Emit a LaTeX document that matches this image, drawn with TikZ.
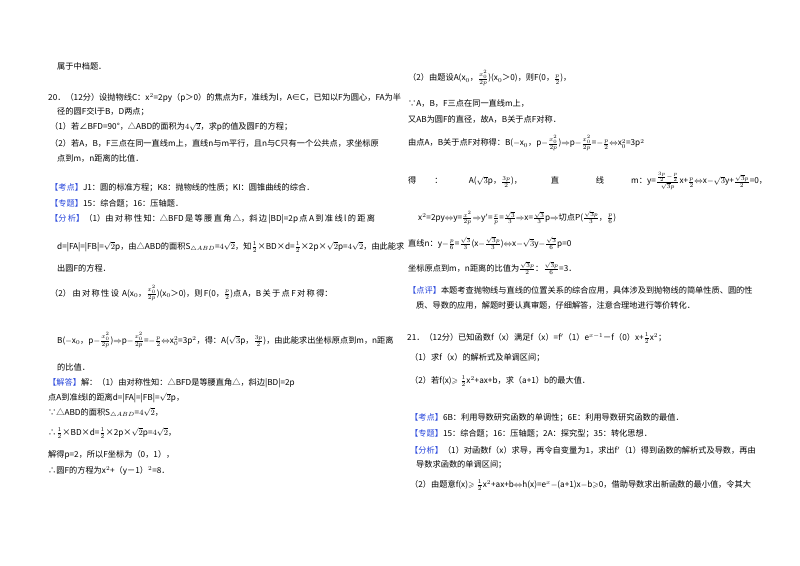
\documentclass[tikz,border=0pt]{standalone}
\usepackage{fontspec}
\setmainfont{Noto Sans CJK SC}
\usepackage{amsmath,amssymb}
\definecolor{tag}{RGB}{40,70,220}
\begin{document}
\begin{tikzpicture}[x=1pt,y=-1pt,
  ln/.style={anchor=west,inner sep=0pt,font=\fontsize{8.2}{10}\selectfont},
  bl/.style={text=tag}]
\useasboundingbox (0,0) rectangle (800,565);
\fill[white] (0,0) rectangle (800,565);
% left column
\node[ln] (l1) at (57,66) {属于中档题．};
\node[ln] (l2) at (48,98) {20．（12分）设抛物线C：x$^2$=2py（p＞0）的焦点为F，准线为l，A∈C，已知以F为圆心，FA为半};
\node[ln] (l3) at (57,112) {径的圆F交l于B，D两点；};
\node[ln] (l4) at (50,127) {（1）若∠BFD=90°，△ABD的面积为$4\sqrt{2}$，求p的值及圆F的方程；};
\node[ln] (l5) at (50,143) {（2）若A，B，F三点在同一直线m上，直线n与m平行，且n与C只有一个公共点，求坐标原};
\node[ln] (l6) at (57,158) {点到m，n距离的比值．};
\node[ln] (l7) at (50,188) {{\color{tag}【考点】}J1：圆的标准方程；K8：抛物线的性质；KI：圆锥曲线的综合．};
\node[ln] (l8) at (50,204) {{\color{tag}【专题】}15：综合题；16：压轴题．};
\node[ln] (l9) at (50,219) {{\color{tag}【分\,析】}（1）由\,对\,称\,性\,知：△BFD\,是\,等\,腰\,直\,角\,△，斜\,边\,|BD|=2p\,点\,A\,到\,准\,线\,l\,的\,距\,离};
\node[ln] (l10) at (57,247) {d=|FA|=|FB|=$\sqrt{2}$p，由△ABD的面积S$_{\triangle ABD}$=$4\sqrt{2}$，知$\frac12$×BD×d=$\frac12$×2p×$\sqrt2$p=$4\sqrt2$，由此能求};
\node[ln] (l11) at (57,268) {出圆F的方程．};
\node[ln] (l12) at (50,293) {（2）\,由\,对\,称\,性\,设\, A(x$_0$，$\frac{x_0^2}{2p}$)(x$_0$＞0)，则\,F(0，$\frac{p}{2}$)点\,A，B\,关\,于\,点\,F\,对\,称\,得：};
\node[ln] (l13) at (57,340) {B($-$x$_0$，p$-\frac{x_0^2}{2p}$)$\Rightarrow$p$-\frac{x_0^2}{2p}$=$-\frac p2$$\Leftrightarrow$x$_0^2$=3p$^2$，得：A($\sqrt3$p，$\frac{3p}{2}$)，由此能求出坐标原点到m，n距离};
\node[ln] (l14) at (57,367) {的比值．};
\node[ln] (l15) at (48,383) {{\color{tag}【解答】}解：（1）由对称性知：△BFD是等腰直角△，斜边|BD|=2p};
\node[ln] (l16) at (48,398) {点A到准线l的距离d=|FA|=|FB|=$\sqrt2$p，};
\node[ln] (l17) at (48,413) {∵△ABD的面积S$_{\triangle ABD}$=$4\sqrt2$，};
\node[ln] (l18) at (48,433) {∴$\frac12$×BD×d=$\frac12$×2p×$\sqrt2$p=$4\sqrt2$，};
\node[ln] (l19) at (48,455) {解得p=2，所以F坐标为（0，1），};
\node[ln] (l20) at (48,471) {∴圆F的方程为x$^2$+（y－1）$^2$=8．};
% right column
\node[ln] (r1) at (408,78) {（2）由题设A(x$_0$，$\frac{x_0^2}{2p}$)(x$_0$＞0)，则F(0，$\frac p2$)，};
\node[ln] (r2) at (408,103) {∵A，B，F三点在同一直线m上，};
\node[ln] (r3) at (408,119) {又AB为圆F的直径，故A，B关于点F对称．};
\node[ln] (r4) at (408,143) {由点A，B关于点F对称得：B($-$x$_0$，p$-\frac{x_0^2}{2p}$)$\Rightarrow$p$-\frac{x_0^2}{2p}$=$-\frac p2$$\Leftrightarrow$x$_0^2$=3p$^2$};
\node[ln] (r5) at (408,181) {得\hspace{2.2em}：\hspace{3.2em}A($\sqrt3$p，$\frac{3p}{2}$)，\hspace{3.5em}直\hspace{4.5em}线\hspace{3.3em}m：y=$\frac{\frac{3p}{2}-\frac p2}{\sqrt3 p}$x+$\frac p2$$\Leftrightarrow$x$-\sqrt3$y+$\frac{\sqrt3 p}{2}$=0，};
\node[ln] (r6) at (418,218) {x$^2$=2py$\Leftrightarrow$y=$\frac{x^2}{2p}$$\Rightarrow$y$'$=$\frac xp$=$\frac{\sqrt3}{3}$$\Rightarrow$x=$\frac{\sqrt3}{3}$p$\Rightarrow$切点P($\frac{\sqrt3 p}{3}$，$\frac p6$)};
\node[ln] (r7) at (408,243) {直线n：y$-\frac p6$=$\frac{\sqrt3}{3}$(x$-\frac{\sqrt3 p}{3}$)$\Leftrightarrow$x$-\sqrt3$y$-\frac{\sqrt3}{6}$p=0};
\node[ln] (r8) at (408,268) {坐标原点到m，n距离的比值为$\frac{\sqrt3 p}{2}$：$\frac{\sqrt3 p}{6}$=3．};
\node[ln] (r9) at (408,290) {{\color{tag}【点评】}本题考查抛物线与直线的位置关系的综合应用，具体涉及到抛物线的简单性质、圆的性};
\node[ln] (r10) at (416,305) {质、导数的应用，解题时要认真审题，仔细解答，注意合理地进行等价转化．};
\node[ln] (r11) at (407,338) {21．（12分）已知函数f（x）满足f（x）=f$'$（1）e$^{x-1}$－f（0）x+$\frac12$x$^2$；};
\node[ln] (r12) at (410,358) {（1）求f（x）的解析式及单调区间；};
\node[ln] (r13) at (410,381) {（2）若f(x)$\geqslant\frac12$x$^2$+ax+b，求（a+1）b的最大值．};
\node[ln] (r14) at (410,418) {{\color{tag}【考点】}6B：利用导数研究函数的单调性；6E：利用导数研究函数的最值．};
\node[ln] (r15) at (410,434) {{\color{tag}【专题】}15：综合题；16：压轴题；2A：探究型；35：转化思想．};
\node[ln] (r16) at (410,450) {{\color{tag}【分析】}（1）对函数f（x）求导，再令自变量为1，求出f$'$（1）得到函数的解析式及导数，再由};
\node[ln] (r17) at (416,465) {导数求函数的单调区间；};
\node[ln] (r18) at (410,485) {（2）由题意f(x)$\geqslant\frac12$x$^2$+ax+b$\Leftrightarrow$h(x)=e$^x-$(a+1)x$-$b$\geqslant$0，借助导数求出新函数的最小值，令其大};
\end{tikzpicture}
\end{document}
